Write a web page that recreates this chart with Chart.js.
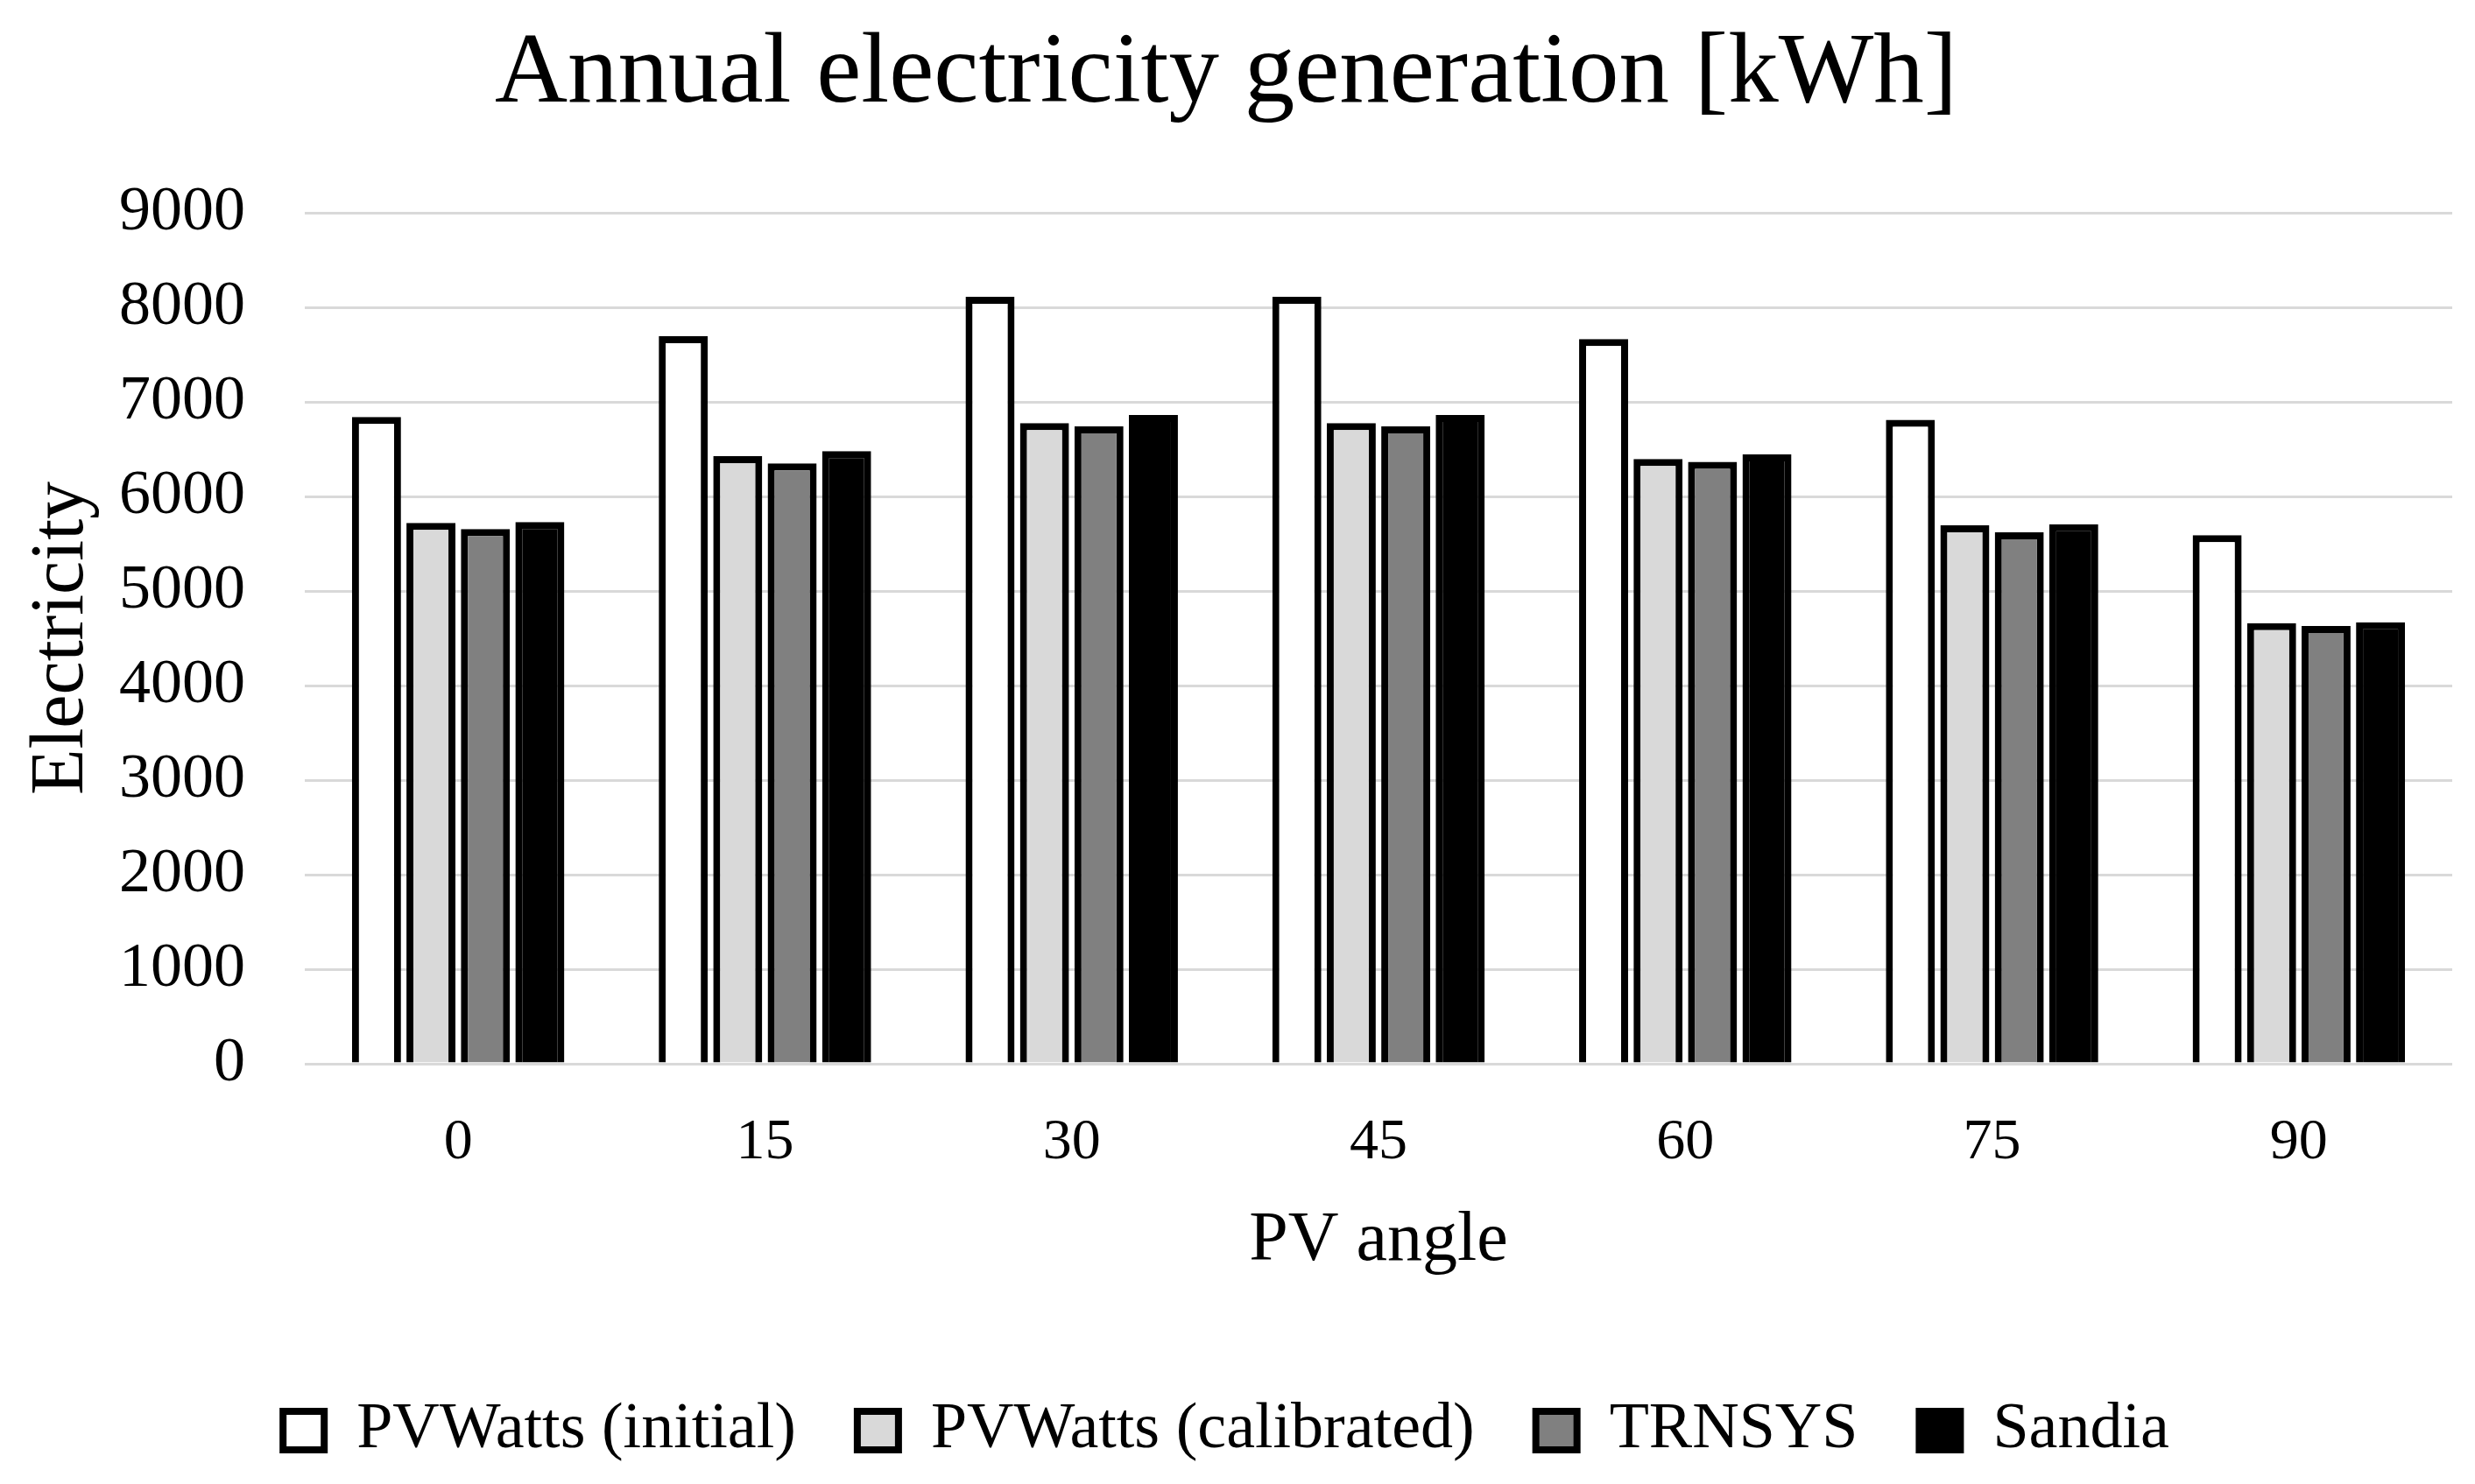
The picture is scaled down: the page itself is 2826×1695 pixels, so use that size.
<!DOCTYPE html>
<html lang="en">
<head>
    <meta charset="UTF-8">
    <title>Annual electricity generation</title>
    <script src="https://cdn.jsdelivr.net/npm/chart.js"></script>
    <style>
        html, body {
            margin: 0;
            padding: 0;
            background: #fff;
        }
        #chart {
            display: block;
        }
    </style>
</head>
<body>
    <canvas id="chart" width="2826" height="1695" style="width:2826px;height:1695px"></canvas>

    <script>
        // values (kWh)
        const angles = ['0', '15', '30', '45', '60', '75', '90'];
        const pvwattsInitial = [6840, 7695, 8110, 8110, 7665, 6810, 5590];
        const pvwattsCalibrated = [5720, 6425, 6775, 6775, 6395, 5695, 4660];
        const trnsys = [5655, 6350, 6740, 6740, 6365, 5620, 4630];
        const sandia = [5730, 6480, 6860, 6860, 6445, 5705, 4670];

        const seriesNames = ['PVWatts (initial)', 'PVWatts (calibrated)', 'TRNSYS', 'Sandia'];
        const seriesFills = ['#ffffff', '#d9d9d9', '#808080', '#000000'];

        const yMin = 0;
        const yMax = 9000;
        const yStep = 1000;

        const serif = '"Liberation Serif", "Times New Roman", serif';

        const datasets = [pvwattsInitial, pvwattsCalibrated, trnsys, sandia].map((values, i) => ({
            label: seriesNames[i],
            data: values,
            backgroundColor: seriesFills[i],
            borderColor: '#000',
            borderWidth: 8,
            categoryPercentage: 0.71,
            barPercentage: 0.9
        }));

        new Chart(document.getElementById('chart').getContext('2d'), {
            type: 'bar',
            data: { labels: angles, datasets: datasets },
            options: {
                responsive: false,
                animation: false,
                devicePixelRatio: 1,
                layout: { padding: { left: 0, right: 26, top: 0, bottom: 14 } },
                plugins: {
                    title: {
                        display: true,
                        text: 'Annual electricity generation [kWh]',
                        color: '#000',
                        font: { family: serif, size: 115, weight: 'normal' },
                        padding: { top: 17, bottom: 88 }
                    },
                    legend: {
                        position: 'bottom',
                        labels: {
                            color: '#000',
                            font: { family: serif, size: 74 },
                            boxWidth: 47,
                            boxHeight: 44,
                            padding: 70
                        }
                    },
                    tooltip: { enabled: false }
                },
                scales: {
                    x: {
                        afterFit: (scale) => { scale.height = 312; },
                        grid: { display: false, drawTicks: false },
                        border: { display: false },
                        ticks: {
                            color: '#000',
                            padding: 51,
                            font: { family: serif, size: 66 }
                        },
                        title: {
                            display: true,
                            text: 'PV angle',
                            color: '#000',
                            font: { family: serif, size: 80 },
                            padding: { top: 0, bottom: 61 }
                        }
                    },
                    y: {
                        min: yMin,
                        max: yMax,
                        afterFit: (scale) => { scale.width = 348; },
                        grid: { color: '#d9d9d9', lineWidth: 3, drawTicks: false },
                        border: { display: false },
                        ticks: {
                            stepSize: yStep,
                            color: '#000',
                            padding: 68,
                            font: { family: serif, size: 72 },
                            callback: (value) => String(value)
                        },
                        title: {
                            display: true,
                            text: 'Electricity',
                            color: '#000',
                            font: { family: serif, size: 86 },
                            padding: { top: 20, bottom: 0 }
                        }
                    }
                }
            }
        });
    </script>
</body>
</html>
